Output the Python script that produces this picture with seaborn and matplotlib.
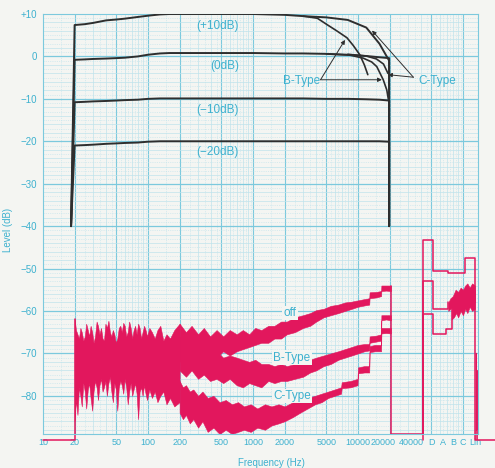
import matplotlib
matplotlib.use("Agg")
import matplotlib.pyplot as plt
import seaborn as sns
import numpy as np

# colours
PAPER = "#f4f5f2"
CYAN = "#3db1cf"
GRID = "#bfe3ec"
GRID_MAJ = "#7cc9dd"
PINK = "#e2175d"
INK = "#2e2e2e"
FLOOR = -90.3

# === record level curves (black) ===
lvl_freq = [18.5, 20, 25, 30, 40, 50, 60, 80, 100, 130, 160, 200, 500, 1000, 2000, 3000]
lvl_p10 = [-40, 7.4, 7.6, 7.9, 8.5, 8.7, 8.9, 9.3, 9.6, 9.9, 10, 10, 10, 10, 9.8, 9.5]
lvl_0 = [-40, -0.8, -0.7, -0.6, -0.5, -0.4, -0.3, 0, 0.4, 0.7, 0.8, 0.8, 0.8, 0.8, 0.7, 0.7]
lvl_m10 = [-40, -10.8, -10.7, -10.6, -10.5, -10.4, -10.3, -10.2, -10.0, -9.9, -9.9, -9.9, -9.9, -9.9, -9.9, -9.9]
lvl_m20 = [-40, -21.0, -20.9, -20.8, -20.6, -20.5, -20.4, -20.3, -20.1, -20, -20, -20, -20, -20, -20, -20]

tail_freq = [5000, 8000, 12000, 16000, 19800, 19800]
tail_p10 = [9.2, 8.6, 6.8, 3.0, -1.0, -40]
tail_0 = [0.6, 0.4, 0.1, -0.2, -0.4, -40]
tail_m10 = [-10.0, -10.0, -10.1, -10.2, -10.4, -40]
tail_m20 = [-20.0, -20.0, -20.0, -20.0, -20.1, -40]

# B-Type / C-Type roll-off at +10 dB and 0 dB
b10_freq = [3000, 4100, 5070, 6300, 7850, 9000, 10400, 11500, 12400]
b10_lvl = [9.5, 9.0, 7.5, 6.0, 4.4, 2.6, 0.4, -2.0, -4.3]
b0_freq = [5000, 8400, 11200, 13500, 15100, 17400, 18800, 19500]
b0_lvl = [0.6, 0.3, -0.4, -1.3, -2.4, -5.5, -7.9, -10.2]
c0_freq = [8000, 12000, 15000, 17500, 19300]
c0_lvl = [0.5, 0.1, -0.6, -1.8, -4.0]

# === noise spectra (pink) ===
mix_freq = [20, 20.6, 21.3, 22, 22.7, 23.4, 24.2, 25, 25.8, 26.7,
            27.5, 28.4, 29.4, 30.3, 31.3, 32.4, 33.4, 34.5, 35.7, 36.9,
            38.1, 39.3, 40.6, 42, 43.4, 44.8, 46.3, 47.8, 49.4, 51,
            52.7, 54.5, 56.3, 58.1, 60, 62, 64.1, 66.2, 68.4, 70.7,
            73, 75.4, 77.9, 80.5, 83.2, 86, 88.8, 91.8, 94.8, 98,
            103, 109, 116, 123, 131, 140, 150, 162, 178, 200]
mix_hi = [-61.8, -64.5, -65.5, -66.5, -64, -65, -67, -66, -63, -64.5,
          -66, -63.5, -65, -67.5, -66, -62.5, -63.5, -65.5, -64, -66.5,
          -67, -63, -64, -62.3, -65, -66, -64.5, -65.5, -67.5, -66.5,
          -64, -63.5, -65, -62.8, -63.5, -66, -65, -62.5, -64, -66.5,
          -64.5, -63.5, -65.5, -63, -64, -66.5, -65, -63.5, -64.5, -66,
          -64, -65, -66.5, -64.5, -63.5, -67, -65.5, -66.5, -64.5, -63]
mix_lo = [-86, -81, -84.5, -78, -80, -82.5, -77, -79, -83, -78.5,
          -77, -80.5, -83.5, -79, -76.5, -78, -81, -77.5, -76, -79,
          -78, -76.5, -80, -77, -75.5, -79, -81.5, -77, -78.5, -83.5,
          -78, -76.5, -77.5, -79.5, -76, -78, -82, -79, -77, -80,
          -78.5, -77, -79.5, -85.5, -79, -78, -80, -77.5, -79.5, -81,
          -78.5, -80.5, -79, -81.5, -80, -79, -82, -80.5, -82.5, -81.5]

nr_freq = [200, 230, 260, 300, 340, 390, 450, 520, 600, 700, 800, 920, 1050, 1200, 1400, 1600, 1850, 2100, 2500, 3000,
           3500, 4000, 4700, 5500, 6500, 7500, 8700, 10000, 11500, 12800, 12900, 15000, 16600, 16700, 18500, 20600]
off_hi = [-63, -65, -63.5, -65.5, -64, -66, -64.5, -66, -64.5, -65.5, -64.5, -65.5, -64, -64.5, -63.5, -63.5, -62.5, -62.5, -61.5, -61,
          -60.5, -59.8, -59.5, -58.8, -58.5, -58, -57.8, -57.5, -57.2, -57, -55.6, -55.5, -55.3, -54, -54, -54]
off_lo = [-72, -70.5, -72.5, -70, -71.5, -70.5, -71, -69.5, -70.5, -69.5, -69, -68.5, -68, -67.5, -67.5, -66.5, -66.5, -65.5, -65, -64,
          -63.5, -62.5, -61.5, -61, -60.5, -60, -59.5, -59, -58.7, -58.5, -57, -56.8, -56.5, -55.3, -55.2, -55.3]
btype_hi = [-66, -68, -67, -69, -68.5, -70, -69.5, -71, -70.5, -71, -71.5, -72, -71.5, -72.5, -72.5, -73, -72.5, -73, -72.5, -72,
            -71.5, -71, -70.5, -70, -69.5, -69, -68.5, -68, -67.8, -67.8, -66, -65.8, -65.5, -61, -61, -61]
btype_lo = [-74, -75.5, -74, -76, -75, -76.5, -76, -77, -76, -77.5, -78, -77, -77.5, -78, -76.5, -77, -76.5, -76.5, -76, -75.5,
            -74.5, -74, -73, -72.5, -71.5, -71, -70.5, -70, -69.5, -69.3, -67.5, -67.2, -67, -62.2, -62, -62.2]

c_freq = [200, 215, 230, 250, 270, 300, 330, 370, 420, 480, 550, 630, 720, 820, 950, 1100, 1300, 1500, 1750, 2000,
          2400, 2800, 3300, 3900, 4500, 5200, 6000, 6900, 7000, 8500, 9900, 10000, 11500, 12800, 12900, 14500, 16600, 16700, 18500, 20600]
ctype_hi = [-76.5, -78, -77.5, -79, -78.5, -80, -79, -80.5, -80, -81.5, -81, -82, -81.5, -82.5, -82, -83, -82, -82.5, -82, -82.5,
            -81.5, -81.5, -80.5, -80, -79.5, -79, -78.5, -78, -76.8, -76.5, -76, -73.3, -73, -73, -68.3, -68, -68, -64, -64, -64]
ctype_lo = [-84, -85.5, -84.5, -86.5, -85.5, -87.5, -86, -88.5, -87.5, -89, -88, -89, -88.5, -88, -88.5, -87.5, -88, -87, -86.5, -86,
            -85, -84, -83, -82, -81.5, -80.5, -80, -79.5, -78.2, -78, -77.5, -74.7, -74.5, -74.5, -69.7, -69.5, -69.5, -65.3, -65.2, -65.3]

# weighted readings: D, A, B, C, Lin (drawn past 40 kHz)
wt_edges = [41900, 51300, 72400, 104500, 130000]
wt_off = [-43.3, -50.5, -51.1, -47.4]
wtb_edges = [41900, 51300, 72400]
wtb_lvl = [-52.9, -59.5]
wtb_freq = [72400, 76000, 80000, 85000, 90000, 95000, 100000, 105000, 110000, 116000, 122000, 130000]
wtb_hi = [-58, -57, -56.5, -55, -55.5, -54.5, -55, -54, -53.5, -54.5, -53.5, -54]
wtb_lo = [-60, -59.5, -59, -58, -58.5, -57.5, -58, -58.5, -57, -58, -57.5, -58]
wtc_edges = [41900, 51300, 69000, 78000]
wtc_lvl = [-60.7, -65.5, -64.2]
wtc_freq = [78000, 82000, 86000, 90000, 95000, 100000, 105000, 110000, 116000, 122000, 130000]
wtc_hi = [-58.5, -57.5, -56, -57, -55.5, -56.5, -55, -56, -54.5, -55.5, -55]
wtc_lo = [-62, -61.5, -60.5, -61.5, -60, -61, -59.5, -60.5, -59, -60, -59.5]

# pen kick at the right edge after the Lin reading
kick_freq = [133000, 134000, 135000, 136000, 137000]
kick_lvl = [-90.3, -70, -88, -74, -90.3]

xtick_pos = [10, 20, 50, 100, 200, 500, 1000, 2000, 5000, 10000, 17300, 32000, 50100, 63800, 80400, 100000, 130000]
xtick_lab = ["10", "20", "50", "100", "200", "500", "1000", "2000", "5000", "10000", "20000", "40000",
             "D", "A", "B", "C", "Lin"]
ytick_pos = [10, 0, -10, -20, -30, -40, -50, -60, -70, -80]
ytick_lab = ["+10", "0", "\u221210", "\u221220", "\u221230", "\u221240", "\u221250", "\u221260", "\u221270", "\u221280"]

sns.set_theme(style="white")
plt.rcParams["font.family"] = ["Liberation Sans", "DejaVu Sans"]

fig = plt.figure(figsize=(4.95, 4.68), dpi=100, facecolor=PAPER)
ax = fig.add_axes([43 / 495, 1 - 434 / 468, 435 / 495, 420 / 468])
ax.set_facecolor(PAPER)
ax.set_xscale("log")
ax.set_xlim(10, 139000)
ax.set_ylim(-89, 10)

# graph-paper grid
for dec in [10, 100, 1000, 10000, 100000]:
    for m in np.arange(1, 10, 0.5):
        f = dec * m
        if f <= 10 or f >= 139000:
            continue
        if m in (1, 2, 5):
            ax.axvline(f, color=GRID_MAJ, lw=0.8, zorder=0)
        elif m == int(m):
            ax.axvline(f, color=GRID, lw=0.5, zorder=0)
        else:
            ax.axvline(f, color=GRID, lw=0.4, ls=(0, (2, 2)), zorder=0)
for v in range(-89, 10):
    if v % 10 == 0:
        ax.axhline(v, color=GRID_MAJ, lw=0.9, zorder=0)
    elif v % 2 == 0:
        ax.axhline(v, color=GRID, lw=0.5, zorder=0)
    else:
        ax.axhline(v, color=GRID, lw=0.4, ls=(0, (2, 2)), zorder=0)


def line(x, y, color, lw, **kw):
    sns.lineplot(x=x, y=y, color=color, lw=lw, sort=False, estimator=None, ax=ax, **kw)


# === black level curves ===
for head, tail in [(lvl_p10, tail_p10), (lvl_0, tail_0), (lvl_m10, tail_m10), (lvl_m20, tail_m20)]:
    line(lvl_freq + tail_freq, head + tail, INK, 1.4, zorder=3)
line(b10_freq, b10_lvl, INK, 1.2, zorder=3)
line(b0_freq, b0_lvl, INK, 1.2, zorder=3)
line(c0_freq, c0_lvl, INK, 1.2, zorder=3)

# === pink noise spectra ===
for fx, lo, hi in [(mix_freq, mix_lo, mix_hi), (nr_freq, off_lo, off_hi), (nr_freq, btype_lo, btype_hi),
                   (c_freq, ctype_lo, ctype_hi), (wtb_freq, wtb_lo, wtb_hi), (wtc_freq, wtc_lo, wtc_hi)]:
    ax.fill_between(fx, lo, hi, color=PINK, lw=0.4, zorder=2)

# pen floor and drops
line([10, mix_freq[0], mix_freq[0]], [FLOOR, FLOOR, mix_hi[0]], PINK, 1.1, zorder=2, clip_on=False)
line([nr_freq[-1], nr_freq[-1]], [off_hi[-1], -89], PINK, 1.1, zorder=2)
line([nr_freq[-1], wt_edges[0]], [-89, -89], PINK, 1.1, zorder=2)


def steps(edges, levels):
    xs, ys = [edges[0]], [FLOOR]
    for i, lv in enumerate(levels):
        xs += [edges[i], edges[i + 1]]
        ys += [lv, lv]
    return xs, ys


xs, ys = steps(wt_edges, wt_off)
line(xs + [wt_edges[-1], 200000], ys + [FLOOR, FLOOR], PINK, 1.1, zorder=2, clip_on=False)
xs, ys = steps(wtb_edges, wtb_lvl)
line(xs + [wtb_freq[0]], ys + [wtb_hi[0]], PINK, 1.1, zorder=2)
xs, ys = steps(wtc_edges, wtc_lvl)
line(xs + [wtc_freq[0]], ys + [wtc_hi[0]], PINK, 1.1, zorder=2)
line(kick_freq, kick_lvl, PINK, 0.8, zorder=2, clip_on=False)

# axes cosmetics
for s in ax.spines.values():
    s.set_color(GRID_MAJ)
    s.set_linewidth(0.8)
ax.set_xticks(xtick_pos)
ax.set_xticklabels(xtick_lab)
ax.xaxis.set_minor_locator(matplotlib.ticker.NullLocator())
ax.set_yticks(ytick_pos)
ax.set_yticklabels(ytick_lab)
ax.tick_params(axis="x", length=0, pad=3, labelsize=6.5, labelcolor=CYAN)
ax.tick_params(axis="y", length=0, pad=4, labelsize=7, labelcolor=CYAN)
ax.set_xlabel("")
ax.set_ylabel("")

fig.text(8 / 495, 1 - 230 / 468, "Level (dB)", rotation=90, color=CYAN, fontsize=7, ha="center", va="center")
fig.text(271 / 495, 1 - 463 / 468, "Frequency (Hz)", color=CYAN, fontsize=7, ha="center", va="center")

# curve labels
for txt, yv in [("(+10dB)", 7.2), ("(0dB)", -2.2), ("(\u221210dB)", -12.6), ("(\u221220dB)", -22.5)]:
    ax.text(736, yv, txt, color=CYAN, fontsize=8.5, ha="right", va="center", zorder=5)
box = dict(boxstyle="square,pad=0.1", fc=PAPER, ec="none")
ax.text(2250, -60.5, "off", color=CYAN, fontsize=8.5, ha="center", va="center", zorder=5, bbox=box)
ax.text(2350, -71, "B-Type", color=CYAN, fontsize=8.5, ha="center", va="center", zorder=5, bbox=box)
ax.text(2350, -80, "C-Type", color=CYAN, fontsize=8.5, ha="center", va="center", zorder=5, bbox=box)

arrow = dict(arrowstyle="-|>", color=INK, lw=0.7, mutation_scale=6, shrinkA=0, shrinkB=0)
ax.text(4340, -5.7, "B-Type", color=CYAN, fontsize=8.5, ha="right", va="center", zorder=5)
ax.annotate("", xy=(7520, 3.9), xytext=(4400, -5.5), arrowprops=arrow)
ax.annotate("", xy=(16900, -5.5), xytext=(4400, -5.5), arrowprops=arrow)
ax.text(37300, -5.7, "C-Type", color=CYAN, fontsize=8.5, ha="left", va="center", zorder=5)
ax.annotate("", xy=(13600, 6.1), xytext=(33700, -4.9), arrowprops=arrow)
ax.annotate("", xy=(19300, -4.3), xytext=(33700, -4.9), arrowprops=arrow)

fig.savefig("out.png", dpi=100, facecolor=PAPER)
